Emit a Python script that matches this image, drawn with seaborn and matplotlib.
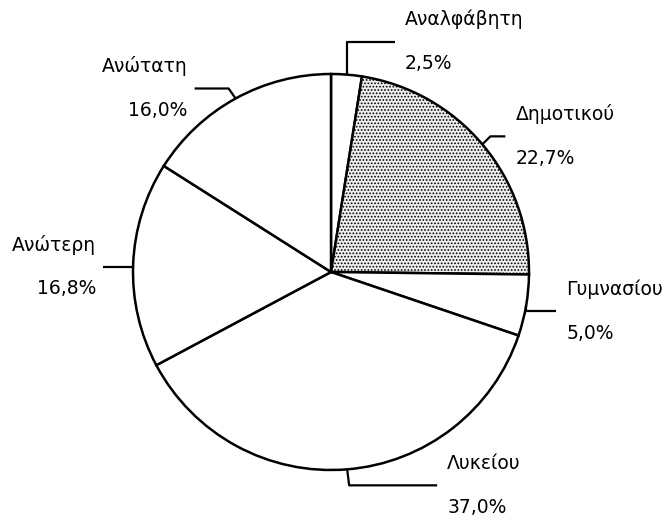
import numpy as np
import matplotlib
matplotlib.use("Agg")
import matplotlib.pyplot as plt
import seaborn as sns

# ---- data ----
categories = ["Αναλφάβητη", "Δημοτικού", "Γυμνασίου", "Λυκείου", "Ανώτερη", "Ανώτατη"]
shares = [2.5, 22.7, 5.0, 37.0, 16.8, 16.0]
pct_labels = ["2,5%", "22,7%", "5,0%", "37,0%", "16,8%", "16,0%"]

sns.set_theme(style="white")
plt.rcParams["font.family"] = ["DejaVu Sans"]
plt.rcParams["hatch.color"] = "#3a3a3a"
plt.rcParams["hatch.linewidth"] = 0.8

W, H = 669, 520
fig = plt.figure(figsize=(W / 100, H / 100), dpi=100)
ax = fig.add_axes([0, 0, 1, 1])

cx, cy, R = 331, H - 272, 198
fills = ["white", "#eeeeee", "white", "white", "white", "white"]
wedges, _ = ax.pie(shares, startangle=90, counterclock=False, center=(cx, cy),
                   radius=R, colors=fills,
                   wedgeprops=dict(edgecolor="black", linewidth=1.8))
wedges[1].set_hatch(".....")

ax.set_xlim(0, W)
ax.set_ylim(0, H)
ax.set_aspect("equal")
ax.axis("off")

# leader-line paths (pixel offsets, screen y downward) and text side
leaders = [
    ([(0, -33), (48, -33)], "left"),
    ([(8, -8), (23, -8)], "left"),
    ([(0, 6), (30, 6)], "left"),
    ([(2, 16), (90, 16)], "left"),
    ([(0, 2), (-30, 2)], "right"),
    ([(-7, -10), (-41, -10)], "right"),
]

for w, name, pct, (path, side) in zip(wedges, categories, pct_labels, leaders):
    mid = np.deg2rad((w.theta1 + w.theta2) / 2)
    x0 = cx + R * np.cos(mid)
    y0 = cy + R * np.sin(mid)
    xs = [x0] + [x0 + dx for dx, dy in path]
    ys = [y0] + [y0 - dy for dx, dy in path]
    ax.plot(xs, ys, color="black", lw=1.6, solid_capstyle="butt")
    xe, ye = xs[-1], ys[-1]
    if side == "left":
        tx, ha = xe + 10, "left"
    else:
        tx, ha = xe - 7, "right"
    ax.text(tx, ye + 22, name, ha=ha, va="center", fontsize=13.5, color="black")
    ax.text(tx, ye - 22, pct, ha=ha, va="center", fontsize=13.5, color="black")

fig.savefig("out.png", dpi=100, facecolor="white")
